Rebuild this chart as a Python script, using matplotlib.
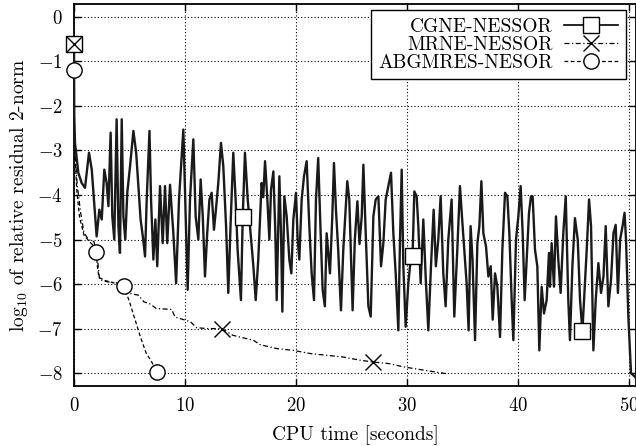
import matplotlib
matplotlib.use("Agg")
import matplotlib.pyplot as plt
from matplotlib.lines import Line2D

# ---- data (CPU seconds, log10 of relative residual) ----
cgne_t = [0, 0.02, 0.09, 0.39, 0.69, 0.99, 1.35, 1.6, 1.8, 2.04, 2.28, 2.5, 2.73, 2.94, 3.1,
          3.3, 3.45, 3.63, 3.84, 4.0, 4.14, 4.3, 4.45, 4.62, 4.8, 5.05, 5.35, 5.6, 5.8, 6.0,
          6.2, 6.4, 6.55, 6.8, 6.94, 7.15, 7.33, 7.5, 7.75, 7.99, 8.2, 8.4, 8.65, 8.95, 9.2,
          9.46, 9.7, 9.85, 10.06, 10.24, 10.45, 10.75, 10.96, 11.2, 11.41, 11.6, 11.8, 12.0,
          12.2, 12.4, 12.61, 12.76, 13.0, 13.24, 13.45, 13.7, 13.9, 14.1, 14.35, 14.56, 14.74,
          15.04, 15.2, 15.4, 15.65, 15.95, 16.16, 16.37, 16.6, 16.9, 17.05, 17.21, 17.42, 17.6,
          17.75, 17.96, 18.14, 18.26, 18.5, 18.65, 18.77, 18.95, 19.16, 19.4, 19.58, 19.76,
          20.0, 20.15, 20.3, 20.51, 20.72, 20.96, 21.2, 21.41, 21.62, 21.8, 22.0, 22.22, 22.4,
          22.6, 22.76, 23.06, 23.27, 23.42, 23.6, 23.8, 24.05, 24.26, 24.62, 24.8, 25.1, 25.3,
          25.53, 25.72, 25.92, 26.07, 26.28, 26.52, 26.73, 26.97, 27.18, 27.42, 27.66, 27.87,
          28.08, 28.32, 28.56, 28.77, 28.98, 29.22, 29.37, 29.52, 29.67, 29.88, 30.12, 30.36,
          30.5, 30.66, 30.87, 31.02, 31.23, 31.47, 31.68, 31.92, 32.16, 32.4, 32.6, 32.82,
          33.03, 33.27, 33.48, 33.72, 34.02, 34.26, 34.53, 34.77, 34.95, 35.16, 35.37, 35.55,
          35.73, 35.9, 36.13, 36.34, 36.52, 36.7, 36.88, 37.12, 37.33, 37.54, 37.72, 37.93,
          38.14, 38.38, 38.59, 38.83, 39.04, 39.22, 39.43, 39.58, 39.82, 40.03, 40.24, 40.42,
          40.6, 40.78, 40.99, 41.17, 41.32, 41.53, 41.74, 41.92, 42.13, 42.34, 42.58, 42.79,
          42.88, 43.03, 43.24, 43.42, 43.63, 43.84, 44.08, 44.3, 44.53, 44.68, 44.9, 45.13,
          45.38, 45.59, 45.8, 45.98, 46.19, 46.4, 46.58, 46.79, 47.0, 47.24, 47.48, 47.7,
          47.9, 48.14, 48.38, 48.6, 48.8, 49.0, 49.2, 49.42, 49.6, 49.73, 49.94, 50.18, 50.6]
cgne_r = [-0.6, -2.2, -2.83, -3.5, -3.73, -3.84, -3.05, -3.43, -4.1, -4.93, -4.33, -4.55, -3.43,
          -3.73, -4.25, -2.6, -4.48, -5.0, -2.3, -4.7, -5.3, -2.3, -4.48, -5.0, -3.95, -3.35,
          -2.56, -3.05, -3.8, -4.55, -4.93, -5.38, -4.1, -2.56, -4.1, -5.45, -4.55, -5.6, -3.8,
          -5.08, -3.8, -5.08, -3.77, -4.86, -5.98, -4.1, -3.13, -2.53, -4.48, -6.13, -4.1,
          -2.75, -4.48, -5.0, -3.65, -4.48, -5.83, -4.86, -4.1, -3.95, -4.78, -4.4, -3.73,
          -2.83, -3.35, -4.7, -6.2, -4.7, -3.05, -4.1, -5.23, -6.36, -4.5, -3.05, -4.1, -5.0,
          -5.6, -6.36, -5.45, -3.73, -4.05, -3.24, -4.1, -5.0, -3.88, -3.47, -4.86, -6.36,
          -3.58, -4.86, -6.62, -4.03, -4.48, -5.45, -5.76, -4.55, -3.95, -5.0, -5.45, -4.1,
          -3.58, -3.24, -4.7, -5.76, -6.36, -4.1, -3.17, -4.86, -6.13, -6.5, -4.86, -5.76,
          -4.48, -3.28, -4.33, -5.23, -6.59, -5.23, -3.69, -4.1, -6.59, -5.0, -4.14, -5.1,
          -4.48, -3.32, -4.86, -6.5, -6.73, -4.48, -4.1, -4.03, -5.6, -5.08, -4.1, -3.8, -3.5,
          -4.86, -5.76, -7.04, -5.0, -3.43, -5.6, -6.96, -5.98, -5.38, -5.37, -3.92, -4.03,
          -4.7, -5.98, -4.55, -5.83, -7.04, -5.6, -4.33, -5.6, -5.0, -4.03, -5.76, -6.5, -5.0,
          -4.1, -6.73, -5.23, -3.8, -4.48, -5.23, -5.98, -7.04, -4.7, -5.45, -7.26, -5.08,
          -4.7, -3.69, -4.86, -5.16, -5.83, -5.6, -6.8, -5.76, -6.06, -7.19, -5.23, -3.95,
          -4.03, -4.86, -6.36, -7.26, -5.0, -4.48, -3.8, -4.86, -6.36, -5.45, -4.4, -4.03,
          -4.03, -5.23, -5.6, -7.49, -6.06, -6.66, -6.36, -5.3, -6.06, -5.08, -6.06, -4.48,
          -5.45, -6.2, -4.86, -4.03, -6.36, -7.26, -5.6, -4.52, -5.0, -6.36, -7.06, -6.2,
          -5.23, -4.1, -4.7, -7.49, -6.36, -5.53, -6.2, -5.83, -4.7, -6.5, -5.9, -4.86, -4.67,
          -6.2, -5.0, -4.7, -4.4, -5.0, -6.73, -8.0, -8.1]

mrne_t = [0, 0.03, 0.1, 0.3, 0.6, 0.9, 1.3, 1.8, 2.1, 2.3, 3.0, 3.8, 4.3, 4.8, 5.8, 6.3, 6.9,
          7.4, 8.8, 9.1, 10.0, 10.5, 11.05, 11.95, 13.3, 14.3, 15.1, 16.15, 16.75, 18.26,
          19.75, 21.26, 22.76, 24.26, 25.77, 26.9, 28.47, 29.67, 31.17, 32.67, 33.72]
mrne_r = [-0.6, -2.5, -3.1, -3.8, -4.4, -4.85, -5.0, -5.05, -5.4, -5.9, -5.95, -5.97, -6.05,
          -6.2, -6.25, -6.4, -6.45, -6.55, -6.57, -6.74, -6.81, -6.85, -6.98, -7.0, -7.0,
          -7.15, -7.2, -7.26, -7.36, -7.45, -7.49, -7.56, -7.6, -7.64, -7.71, -7.75, -7.79,
          -7.86, -7.92, -7.98, -8.02]

abg_t = [0, 0.03, 0.1, 0.25, 0.5, 0.9, 1.4, 1.8, 2.0, 2.1, 2.25, 2.8, 3.5, 4.5, 5.0, 5.5,
         6.0, 6.5, 7.0, 7.5]
abg_r = [-1.2, -2.5, -3.1, -3.9, -4.5, -4.9, -5.05, -5.15, -5.27, -5.6, -5.85, -5.92, -5.97,
         -6.05, -6.4, -6.8, -7.2, -7.55, -7.75, -7.98]

cgne_mark_t = [0, 15.2, 30.5, 45.8]
cgne_mark_r = [-0.6, -4.5, -5.37, -7.06]
mrne_mark_t = [0, 13.3, 26.9]
mrne_mark_r = [-0.6, -7.0, -7.75]
abg_mark_t = [0, 2.0, 4.5, 7.5]
abg_mark_r = [-1.2, -5.27, -6.05, -7.98]

labels = ["CGNE-NESSOR", "MRNE-NESSOR", "ABGMRES-NESOR"]
xticks = [0, 10, 20, 30, 40, 50]
yticks = [0, -1, -2, -3, -4, -5, -6, -7, -8]

# ---- style ----
plt.rcParams["font.family"] = "serif"
plt.rcParams["font.serif"] = ["cmr10", "DejaVu Serif"]
plt.rcParams["mathtext.fontset"] = "cm"
plt.rcParams["axes.formatter.use_mathtext"] = True
plt.rcParams["font.size"] = 14

fig = plt.figure(figsize=(6.36, 4.46), dpi=100)
ax = fig.add_axes([74 / 636, 60 / 446, 562 / 636, 382 / 446])

dashdot = (0, (4, 2, 1, 2))
dashed = (0, (3, 2))

ax.plot(abg_t, abg_r, color="black", lw=0.9, ls=dashed, zorder=3)
ax.plot(mrne_t, mrne_r, color="black", lw=0.9, ls=dashdot, zorder=3)
ax.plot(cgne_t, cgne_r, color="#1a1a1a", lw=1.7, zorder=4)

mk = dict(ms=11, mec="black", mew=1.0, ls="none", zorder=6, clip_on=False)
ax.plot(cgne_mark_t, cgne_mark_r, marker="s", mfc="white", **mk)
ax.plot(mrne_mark_t, mrne_mark_r, marker="x", **mk)
ax.plot(abg_mark_t, abg_mark_r, marker="o", mfc="white", **mk)

ax.set_xlim(0, 50.63)
ax.set_ylim(-8.29, 0.29)
ax.set_xticks(xticks)
ax.set_yticks(yticks)
ax.tick_params(direction="in", length=5, width=1, top=True, right=True, pad=8,
               labelsize=13.5)
ax.grid(True, color="black", lw=0.8, ls=(0, (1, 2)))
for s in ax.spines.values():
    s.set_linewidth(1.3)

ax.set_xlabel("CPU time [seconds]", labelpad=7)
ax.set_ylabel(r"$\mathrm{log}_{10}$ of relative residual 2-norm", labelpad=5)

handles = [
    Line2D([], [], color="black", lw=1.2, marker="s", mfc="white", mec="black", ms=11),
    Line2D([], [], color="black", lw=0.9, ls=dashdot, marker="x", mec="black", ms=11),
    Line2D([], [], color="black", lw=0.9, ls=dashed, marker="o", mfc="white", mec="black", ms=11),
]
leg = ax.legend(handles, labels, loc="upper right", bbox_to_anchor=(0.982, 0.984),
                borderaxespad=0, markerfirst=False, fancybox=False, framealpha=1,
                edgecolor="black", handlelength=2.8, handletextpad=0.55,
                labelspacing=0.0, borderpad=0.4, fontsize=14)
leg.get_frame().set_linewidth(1.0)
leg.set_zorder(10)

fig.savefig("out.png", dpi=100)
